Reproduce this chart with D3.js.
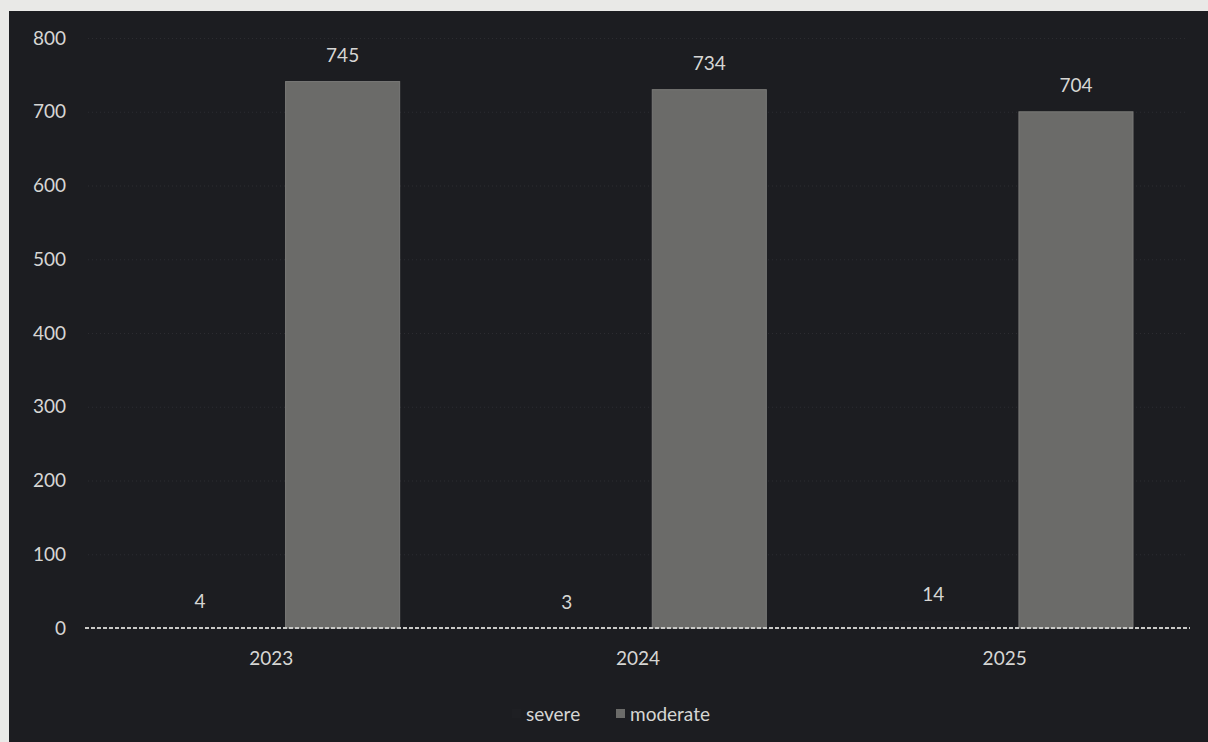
<!DOCTYPE html>
<html><head><meta charset="utf-8">
<script src="https://cdn.jsdelivr.net/npm/d3@7"></script>
<style>
html,body{margin:0;padding:0;background:#e9e9e7;}
svg{display:block;}
</style></head>
<body><svg id="c" width="1208" height="742"></svg>
<script>
const categories = ["2023","2024","2025"];
const seriesNames = ["severe","moderate"];
const severe = [4,3,14];
const moderate = [745,734,704];
const yTicks = [0,100,200,300,400,500,600,700,800];

const svg = d3.select("#c");
const W = 1208, H = 742;
const font = "Lato, 'Open Sans', sans-serif";
const txt = "#d6d6d4";
const fs = 19;

svg.append("rect").attr("x",9).attr("y",11).attr("width",W-9).attr("height",H-11).attr("fill","#1c1d21");

const m = {left:88, right:1188, top:38, bottom:628};
const y = d3.scaleLinear().domain([0,800]).range([m.bottom,m.top]);
const x0 = d3.scaleBand().domain(categories).range([m.left,m.right]).padding(0);
const x1 = d3.scaleBand().domain(seriesNames).range([55, x0.bandwidth()-55]).paddingInner(0.2).paddingOuter(0);
const color = d3.scaleOrdinal().domain(seriesNames).range(["#1e1f23","#6b6b69"]);

// grid
const yAxis = d3.axisLeft(y).tickValues(yTicks).tickSize(-(m.right-m.left)).tickFormat(d3.format("d"));
const gy = svg.append("g").attr("transform",`translate(${m.left},0)`).call(yAxis);
gy.select(".domain").remove();
gy.selectAll(".tick line").attr("stroke","#4a4b50").attr("stroke-width",1).attr("stroke-dasharray","1,3").attr("opacity",0.35);
gy.selectAll(".tick text").attr("fill",txt).attr("font-family",font).attr("font-size",fs).attr("x",-22);

const data = categories.map((c,i)=>({cat:c, vals:[{k:"severe",v:severe[i]},{k:"moderate",v:moderate[i]}]}));

const groups = svg.append("g").selectAll("g").data(data).join("g")
  .attr("transform",d=>`translate(${x0(d.cat)},0)`);
groups.selectAll("rect").data(d=>d.vals).join("rect")
  .attr("x",d=>x1(d.k)).attr("width",x1.bandwidth())
  .attr("y",d=>y(d.v)+3).attr("height",d=>y(0)-y(d.v)-3)
  .attr("fill",d=>color(d.k))
  .attr("stroke",d=>d.k==="moderate"?"#7a7a78":"none").attr("stroke-width",1);
groups.selectAll("text").data(d=>d.vals).join("text")
  .attr("x",d=>x1(d.k)+x1.bandwidth()/2).attr("y",d=>y(d.v)-17)
  .attr("text-anchor","middle").attr("fill",txt).attr("font-family",font).attr("font-size",fs)
  .text(d=>d.v);

// zero line
svg.append("line").attr("x1",m.left-3).attr("x2",m.right+2).attr("y1",y(0)).attr("y2",y(0))
  .attr("stroke","#c9c9c7").attr("stroke-width",2).attr("stroke-dasharray","4,2");

// x axis
const xAxis = d3.axisBottom(x0).tickSize(0).tickPadding(24);
const gx = svg.append("g").attr("transform",`translate(0,${m.bottom})`).call(xAxis);
gx.select(".domain").remove();
gx.selectAll("text").attr("fill",txt).attr("font-family",font).attr("font-size",fs);

// legend
const lg = svg.append("g").attr("transform","translate(512,721)");
const items = [{k:"severe",x:0},{k:"moderate",x:104}];
items.forEach(it=>{
  lg.append("rect").attr("x",it.x).attr("y",-12).attr("width",9).attr("height",9).attr("fill",color(it.k));
  lg.append("text").attr("x",it.x+14).attr("y",0).attr("fill",txt).attr("font-family",font).attr("font-size",fs).text(it.k);
});
</script></body></html>
